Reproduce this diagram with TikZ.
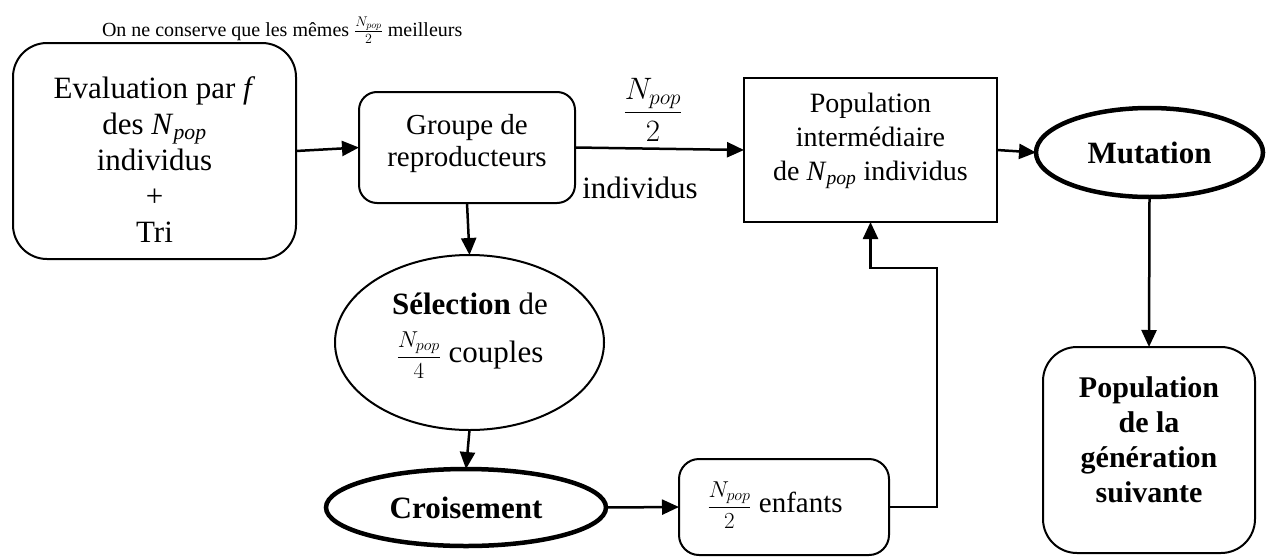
\RequirePackage{fix-cm}
\documentclass[tikz,border=0pt]{standalone}
\usepackage{fontspec}
\setmainfont{Liberation Serif}
\usetikzlibrary{arrows.meta,shapes.geometric}
\newcommand{\Npop}{\textit{N}\textsubscript{\textit{pop}}}
\newcommand{\fsz}[2]{\fontsize{#1}{#2}\selectfont}
\newcommand{\mfrac}[3]{{\fsz{#1}{#1}$\displaystyle\frac{N_{pop}}{#2}$}#3}
\begin{document}
\begin{tikzpicture}[x=1pt,y=-1pt,
  every node/.style={inner sep=0pt,outer sep=0pt},
  txt/.style={align=center,font=\fsz{30}{36}},
  bx/.style={draw,line width=2pt},
  thickell/.style={draw,ellipse,line width=4.5pt},
  conn/.style={line width=2.5pt,-{Triangle[length=17pt,width=15pt]}}
]
\useasboundingbox (0,0) rectangle (1268,557);

% boxes
\node[bx,rounded corners=34pt,minimum width=283pt,minimum height=216pt] (eval) at (154.5,151) {};
\node[txt,font=\fsz{31}{36}] (evalT) at (154.5,160) {Evaluation par \textit{f}\\ des \Npop\\ individus\\ +\\ Tri};

\node[bx,rounded corners=18pt,minimum width=216pt,minimum height=111pt] (groupe) at (467,147.5) {};
\node[txt,font=\fsz{29}{32}] (groupeT) at (467,144) {Groupe de\\ reproducteurs};

\node[bx,line width=2.5pt,minimum width=253pt,minimum height=144pt] (pop) at (870.5,150) {};
\node[txt,font=\fsz{28}{34}] (popT) at (870.5,141) {Population\\ intermédiaire\\ de \Npop{} individus};

\node[thickell,minimum width=227pt,minimum height=89pt] (mut) at (1149.5,152.5) {};
\node[txt,font=\bfseries\fsz{31}{36}] (mutT) at (mut.center) {Mutation};

\node[bx,rounded corners=34pt,minimum width=212pt,minimum height=206pt] (popgen) at (1149,450) {};
\node[txt,font=\bfseries\fsz{30}{35}] (popgenT) at (1149,440) {Population\\ de la\\ génération\\ suivante};

\node[draw,ellipse,line width=2pt,minimum width=269pt,minimum height=175pt] (sel) at (469.5,342.5) {};
\node[txt,font=\fsz{31}{36}] (selT) at (470,336) {\textbf{Sélection} de\\[12pt] \mfrac{23}{4}{ couples}};

\node[thickell,minimum width=280pt,minimum height=77pt] (crois) at (466,507.5) {};
\node[txt,font=\bfseries\fsz{31}{36}] (croisT) at (crois.center) {Croisement};

\node[bx,rounded corners=20pt,minimum width=210pt,minimum height=96pt] (enf) at (784,507) {};
\node[txt,font=\fsz{29}{34}] (enfT) at (775,505) {\mfrac{23}{2}{ enfants}};

% labels
\node[font=\fsz{20}{24},anchor=west] (topT) at (102,30) {On ne conserve que les mêmes $\frac{N_{pop}}{2}$ meilleurs};
\node[font=\fsz{31}{34}] (fracT) at (653,110) {$\displaystyle\frac{N_{pop}}{2}$};
\node[font=\fsz{31}{36}] (indT) at (640,188) {individus};

% connectors
\coordinate (fb) at (937,268);
\draw[conn] (eval.east) -- (groupe.west);
\draw[conn] (groupe.east) -- (pop.west);
\draw[conn] (pop.east) -- (mut.west);
\draw[conn] (mut.south) -- (popgen.north);
\draw[conn] (groupe.south) -- (sel.north);
\draw[conn] (sel.south) -- (crois.north);
\draw[conn] (crois.east) -- (enf.west);
\draw[conn] (enf.east) -| (fb) -| (pop.south);
\end{tikzpicture}
\end{document}
